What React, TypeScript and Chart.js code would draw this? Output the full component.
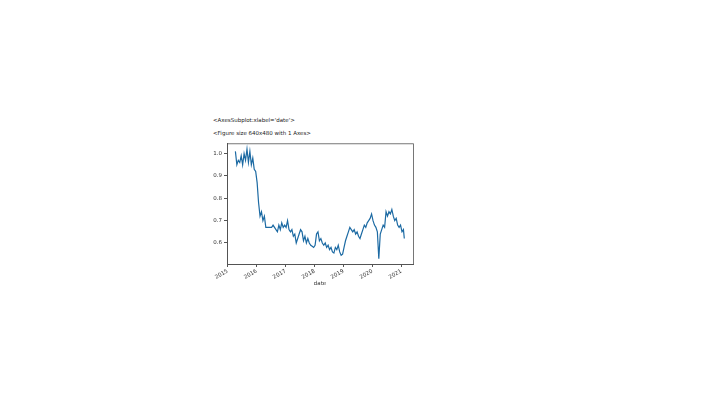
import React, { useEffect, useRef } from "react";
import { Chart, registerables } from "chart.js";

Chart.register(...registerables);

// decimal years (x) and values (y)
const dates: number[] = [
  2015.27, 2015.32, 2015.37, 2015.42, 2015.47, 2015.52, 2015.57, 2015.62, 2015.67, 2015.72,
  2015.77, 2015.82, 2015.87, 2015.92, 2015.97, 2016.02, 2016.07, 2016.12, 2016.17, 2016.22,
  2016.27, 2016.32, 2016.37, 2016.42, 2016.47, 2016.52, 2016.57, 2016.62, 2016.67, 2016.72,
  2016.77, 2016.82, 2016.87, 2016.92, 2016.97, 2017.02, 2017.07, 2017.12, 2017.17, 2017.22,
  2017.27, 2017.32, 2017.37, 2017.42, 2017.47, 2017.52, 2017.57, 2017.62, 2017.67, 2017.72,
  2017.77, 2017.82, 2017.87, 2017.92, 2017.97, 2018.02, 2018.07, 2018.12, 2018.17, 2018.22,
  2018.27, 2018.32, 2018.37, 2018.42, 2018.47, 2018.52, 2018.57, 2018.62, 2018.67, 2018.72,
  2018.77, 2018.82, 2018.87, 2018.92, 2018.97, 2019.02, 2019.07, 2019.12, 2019.17, 2019.22,
  2019.27, 2019.32, 2019.37, 2019.42, 2019.47, 2019.52, 2019.57, 2019.62, 2019.67, 2019.72,
  2019.77, 2019.82, 2019.87, 2019.92, 2019.97, 2020.02, 2020.07, 2020.12, 2020.17, 2020.22,
  2020.27, 2020.32, 2020.37, 2020.42, 2020.47, 2020.52, 2020.57, 2020.62, 2020.67, 2020.72,
  2020.77, 2020.82, 2020.87, 2020.92, 2020.97, 2021.02, 2021.07, 2021.1,
];

const values: number[] = [
  1.01, 0.95, 0.97, 0.96, 0.99, 0.95, 1.0, 0.97, 1.02, 0.96,
  1.01, 0.95, 0.98, 0.93, 0.92, 0.87, 0.78, 0.72, 0.74, 0.7,
  0.72, 0.67, 0.67, 0.67, 0.67, 0.67, 0.68, 0.67, 0.66, 0.65,
  0.68, 0.66, 0.69, 0.67, 0.68, 0.67, 0.7, 0.66, 0.65, 0.66,
  0.63, 0.64, 0.6, 0.62, 0.64, 0.66, 0.65, 0.61, 0.63, 0.6,
  0.62, 0.6, 0.59, 0.585, 0.58, 0.59, 0.64, 0.65, 0.61, 0.62,
  0.6, 0.59, 0.6, 0.58, 0.59, 0.57, 0.58, 0.56, 0.555, 0.58,
  0.57, 0.59, 0.56, 0.545, 0.55, 0.58, 0.61, 0.63, 0.65, 0.67,
  0.66, 0.65, 0.66, 0.64, 0.65, 0.63, 0.62, 0.64, 0.66, 0.68,
  0.67, 0.69, 0.7, 0.71, 0.73, 0.7, 0.68, 0.67, 0.65, 0.53,
  0.64, 0.66, 0.68, 0.67, 0.74, 0.72, 0.74, 0.73, 0.75, 0.72,
  0.7, 0.71, 0.68, 0.67, 0.68, 0.65, 0.66, 0.62,
];

const yTicks: string[] = ["0.6", "0.7", "0.8", "0.9", "1.0"];
const xTicks: string[] = ["2015", "2016", "2017", "2018", "2019", "2020", "2021"];
const xTitle = "date";
const reprLines: string[] = ["<AxesSubplot:xlabel='date'>", "<Figure size 640x480 with 1 Axes>"];

const FONT = "'DejaVu Sans', sans-serif";

export default function App() {
  const ref = useRef<HTMLCanvasElement | null>(null);

  useEffect(() => {
    document.body.style.margin = "0";
    const canvas = ref.current;
    if (!canvas) return;
    const frame = {
      id: "frame",
      afterDatasetsDraw(chart: any) {
        const { ctx, chartArea: a } = chart;
        ctx.save();
        ctx.strokeStyle = "#555";
        ctx.lineWidth = 0.8;
        ctx.strokeRect(a.left + 0.5, a.top + 0.5, a.right - a.left, a.bottom - a.top);
        ctx.restore();
      },
    };
    const chart = new Chart(canvas, {
      type: "line",
      data: {
        datasets: [
          {
            data: dates.map((d, i) => ({ x: d, y: values[i] })),
            borderColor: "#1c6aa3",
            borderWidth: 1.2,
            pointRadius: 0,
            tension: 0,
            fill: false,
          },
        ],
      },
      options: {
        animation: false,
        responsive: false,
        maintainAspectRatio: false,
        layout: { padding: { left: 0, right: 7, top: 4, bottom: 11 } },
        plugins: { legend: { display: false }, tooltip: { enabled: false } },
        scales: {
          x: {
            type: "linear",
            min: 2014.98,
            max: 2021.4,
            afterFit: (s: any) => { s.height = 23; },
            ticks: {
              stepSize: 1,
              includeBounds: false,
              autoSkip: false,
              minRotation: 30,
              maxRotation: 30,
              padding: 1,
              color: "#333",
              font: { size: 5.5, family: FONT },
              callback: (v: any) => xTicks[Math.round(Number(v)) - 2015] ?? "",
            },
            grid: { drawOnChartArea: false, drawTicks: true, tickLength: 3, color: "#555" },
            border: { display: true, color: "#555" },
            title: { display: true, text: xTitle, color: "#333", font: { size: 5.5, family: FONT }, padding: 0 },
          },
          y: {
            type: "linear",
            min: 0.506,
            max: 1.046,
            afterFit: (s: any) => { s.width = 27; },
            ticks: {
              stepSize: 0.1,
              includeBounds: false,
              padding: 2,
              color: "#333",
              font: { size: 5.5, family: FONT },
              callback: (v: any) => {
                const i = Math.round((Number(v) - 0.6) * 10);
                return yTicks[i] ?? "";
              },
            },
            grid: { drawOnChartArea: false, drawTicks: true, tickLength: 3, color: "#555" },
            border: { display: true, color: "#555" },
          },
        },
      },
      plugins: [frame],
    });
    return () => chart.destroy();
  }, []);

  return (
    <div style={{ position: "relative", width: 720, height: 404, background: "#fff", fontFamily: FONT }}>
      {reprLines.map((t, i) => (
        <div
          key={i}
          style={{ position: "absolute", left: 213, top: 117 + i * 13, fontSize: 5.5, color: "#222", whiteSpace: "pre", lineHeight: "7px" }}
        >
          {t}
        </div>
      ))}
      <canvas ref={ref} width={220} height={160} style={{ position: "absolute", left: 200, top: 138, width: 220, height: 160 }} />
    </div>
  );
}
